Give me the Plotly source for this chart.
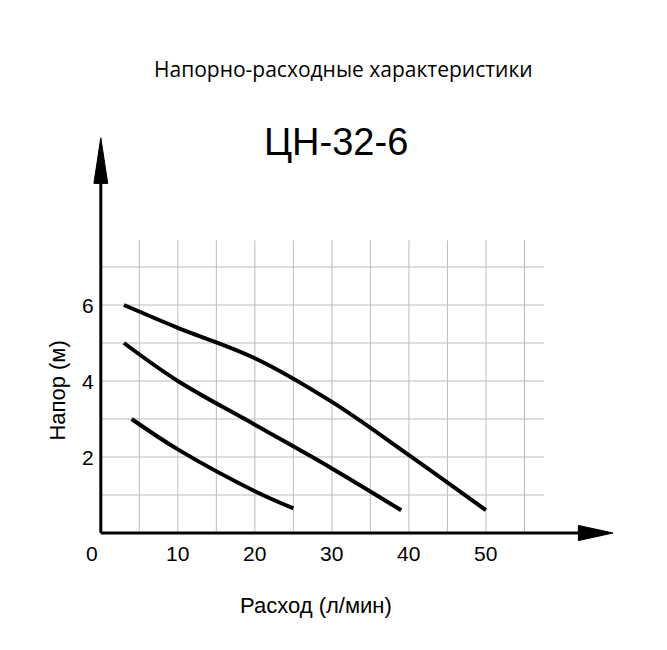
import plotly.graph_objects as go

x_ticks = [0, 10, 20, 30, 40, 50]
y_ticks = [2, 4, 6]
c1_x = [3, 10, 20, 30, 40, 50]
c1_y = [6.0, 5.4, 4.6, 3.45, 2.05, 0.6]
c2_x = [3, 10, 20, 30, 39]
c2_y = [5.0, 4.0, 2.85, 1.7, 0.6]
c3_x = [4, 10, 20, 25]
c3_y = [3.0, 2.2, 1.1, 0.65]

fig = go.Figure()
for xs, ys in [(c1_x, c1_y), (c2_x, c2_y), (c3_x, c3_y)]:
    fig.add_trace(go.Scatter(x=xs, y=ys, mode="lines", line=dict(color="black", width=4, shape="spline"),
                             showlegend=False, hoverinfo="skip"))

shapes = []
g = dict(color="#bbbbbb", width=1)
for yv in range(1, 8):
    shapes.append(dict(type="line", x0=0, x1=57.5, y0=yv, y1=yv, line=g, layer="below"))
for xv in range(5, 60, 5):
    shapes.append(dict(type="line", x0=xv, x1=xv, y0=0, y1=7.7, line=g, layer="below"))
shapes.append(dict(type="line", x0=0, x1=0, y0=0, y1=9.5, line=dict(color="black", width=3)))
shapes.append(dict(type="line", x0=0, x1=62.5, y0=0, y1=0, line=dict(color="black", width=3)))
shapes.append(dict(type="path", path="M -0.9,9.2 L 0,10.4 L 0.9,9.2 Z", fillcolor="black", line=dict(color="black", width=1)))
shapes.append(dict(type="path", path="M 62,0.2 L 66.5,0 L 62,-0.2 Z", fillcolor="black", line=dict(color="black", width=1)))

ann = []
f = "Liberation Sans, Arial"
for t in x_ticks:
    ann.append(dict(x=t if t else -1.2, y=-0.55, text=str(t), showarrow=False, font=dict(size=21, family=f, color="black")))
for t in y_ticks:
    ann.append(dict(x=-1.6, y=t, text=str(t), showarrow=False, font=dict(size=21, family=f, color="black")))
ann.append(dict(x=27.9, y=-1.9, text="Расход (л/мин)", showarrow=False, font=dict(size=22, family=f, color="black")))
ann.append(dict(xref="paper", yref="paper", x=-0.047, y=0.41, text="Напор (м)", textangle=-90, showarrow=False,
                font=dict(size=22, family=f, color="black")))
ann.append(dict(x=30.5, y=10.3, text="ЦН-32-6", showarrow=False, font=dict(size=38, family=f, color="black")))
ann.append(dict(xref="paper", yref="paper", x=0.48, y=1.045, text="Напорно-расходные характеристики", showarrow=False,
                font=dict(size=21, family="Open Sans, Noto Sans", color="black")))

fig.update_layout(width=667, height=650, margin=dict(l=62, r=35, t=69, b=49),
                  plot_bgcolor="white", paper_bgcolor="white", shapes=shapes, annotations=ann,
                  xaxis=dict(range=[-4, 70], visible=False),
                  yaxis=dict(range=[-2, 12], visible=False))
fig.write_html("out.html")
